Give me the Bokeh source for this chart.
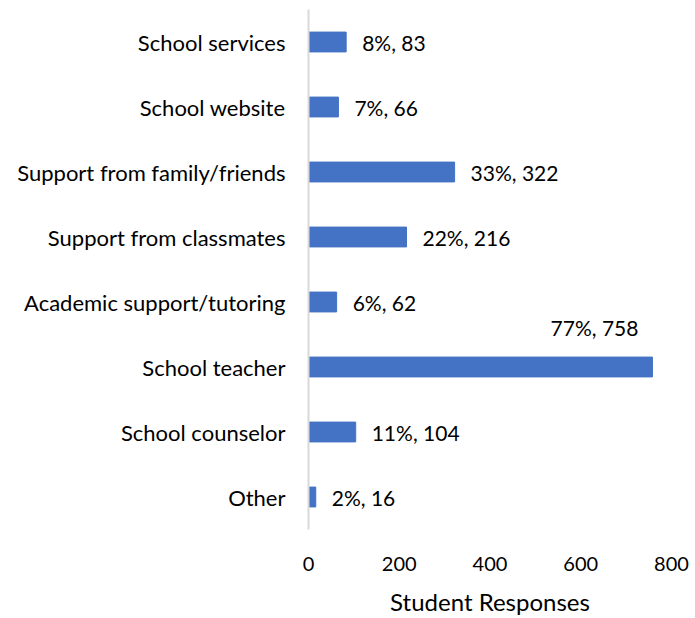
from bokeh.plotting import figure
from bokeh.models import ColumnDataSource, Range1d, FactorRange, LabelSet
from bokeh.embed import file_html
from bokeh.resources import INLINE
from bokeh.core.properties import value

categories = ["School services", "School website", "Support from family/friends",
              "Support from classmates", "Academic support/tutoring", "School teacher",
              "School counselor", "Other"]
counts = [83, 66, 322, 216, 62, 758, 104, 16]
percents = ["8%", "7%", "33%", "22%", "6%", "77%", "11%", "2%"]
xticks = [0, 200, 400, 600, 800]

FONT = "Lato"
labels = [f"{p}, {c}" for p, c in zip(percents, counts)]
inside = [c < 700 for c in counts]

src_norm = ColumnDataSource(dict(
    y=[k for k, i in zip(categories, inside) if i],
    x=[c for c, i in zip(counts, inside) if i],
    t=[l for l, i in zip(labels, inside) if i]))
src_top = ColumnDataSource(dict(
    y=[k for k, i in zip(categories, inside) if not i],
    x=[c for c, i in zip(counts, inside) if not i],
    t=[l for l, i in zip(labels, inside) if not i]))

p = figure(width=695, height=618, output_backend="svg", toolbar_location=None,
           y_range=FactorRange(*reversed(categories), range_padding=0),
           x_range=Range1d(0, 800),
           min_border_left=308, min_border_right=24, min_border_top=9, min_border_bottom=85)
p.outline_line_color = None
p.grid.visible = False

p.hbar(y=categories, right=counts, left=0, height=0.305, color="#4472C4")

p.add_layout(LabelSet(x="x", y="y", text="t", source=src_norm, x_offset=16,
                      text_baseline="middle", text_font=value(FONT),
                      text_font_size="21px", text_color="#000000"))
p.add_layout(LabelSet(x="x", y="y", text="t", source=src_top, x_offset=-14, y_offset=40,
                      text_baseline="middle", text_align="right", text_font=value(FONT),
                      text_font_size="21px", text_color="#000000"))

p.yaxis.axis_line_color = "#D9D9D9"
p.yaxis.axis_line_width = 2
p.yaxis.major_tick_line_color = None
p.yaxis.minor_tick_line_color = None
p.yaxis.major_label_standoff = 17
p.yaxis.major_label_text_font = FONT
p.yaxis.major_label_text_font_size = "22px"
p.yaxis.major_label_text_color = "#000000"

p.xaxis.ticker = xticks
p.xaxis.axis_line_color = None
p.xaxis.major_tick_line_color = None
p.xaxis.minor_tick_line_color = None
p.xaxis.major_label_standoff = 21
p.xaxis.major_label_text_font = FONT
p.xaxis.major_label_text_font_size = "20px"
p.xaxis.major_label_text_color = "#000000"
p.xaxis.axis_label = "Student Responses"
p.xaxis.axis_label_text_font = FONT
p.xaxis.axis_label_text_font_size = "24px"
p.xaxis.axis_label_text_font_style = "normal"
p.xaxis.axis_label_text_color = "#000000"
p.xaxis.axis_label_standoff = 13

open("out.html", "w").write(file_html(p, INLINE))
